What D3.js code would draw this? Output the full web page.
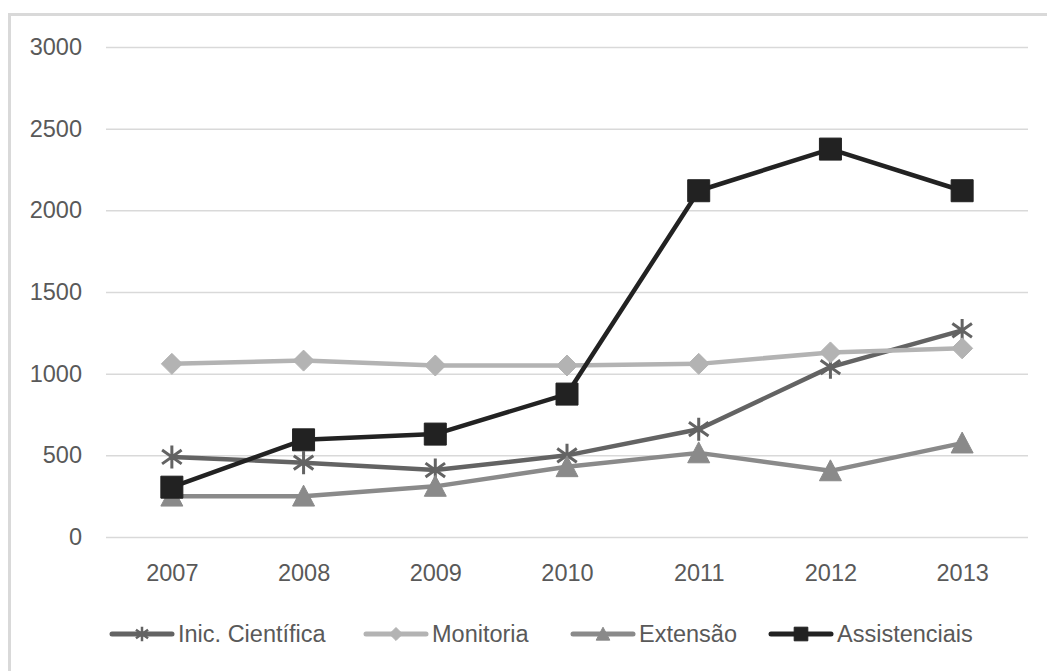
<!DOCTYPE html>
<html>
<head>
<meta charset="utf-8">
<script src="https://cdn.jsdelivr.net/npm/d3@7"></script>
<style>
  html, body { margin: 0; padding: 0; background: #fff; }
  svg { display: block; }
  text { font-family: "Liberation Sans", Arial, sans-serif; fill: #595959; }
</style>
</head>
<body>
<svg id="chart" width="1047" height="671"></svg>
<script>
// Anos e séries
const years = ["2007", "2008", "2009", "2010", "2011", "2012", "2013"];
const inicCientifica = [490, 455, 410, 500, 660, 1040, 1265];
const monitoria = [1060, 1080, 1050, 1050, 1060, 1130, 1155];
const extensao = [250, 250, 310, 430, 515, 405, 575];
const assistenciais = [305, 595, 630, 875, 2120, 2375, 2120];
const yTicks = [0, 500, 1000, 1500, 2000, 2500, 3000];

const series = [
  { name: "Inic. Científica", values: inicCientifica, color: "#636363", marker: "star" },
  { name: "Monitoria", values: monitoria, color: "#b3b3b3", marker: "diamond" },
  { name: "Extensão", values: extensao, color: "#8a8a8a", marker: "triangle" },
  { name: "Assistenciais", values: assistenciais, color: "#222222", marker: "square" }
];

const svg = d3.select("#chart");

// moldura do gráfico
svg.append("rect")
  .attr("x", 9.5).attr("y", 14.5)
  .attr("width", 1200).attr("height", 900)
  .attr("fill", "none")
  .attr("stroke", "#d9d9d9")
  .attr("stroke-width", 3);

const plot = { left: 106, right: 1028, top: 47, bottom: 537 };

const x = d3.scalePoint().domain(years).range([plot.left, plot.right]).padding(0.5);
const y = d3.scaleLinear().domain([0, 3000]).range([plot.bottom, plot.top]);

// eixo Y com linhas de grade
const yAxis = svg.append("g")
  .attr("transform", `translate(${plot.left},0)`)
  .call(d3.axisLeft(y).tickValues(yTicks).tickFormat(d3.format("d"))
    .tickSize(-(plot.right - plot.left)).tickPadding(24));
yAxis.select(".domain").remove();
yAxis.selectAll(".tick line").attr("stroke", "#d9d9d9").attr("stroke-width", 1.5);
yAxis.selectAll(".tick text").style("font-size", "23.5px").attr("fill", "#595959");

// eixo X (somente rótulos)
const xAxis = svg.append("g")
  .attr("transform", `translate(0,${plot.bottom})`)
  .call(d3.axisBottom(x).tickSize(0).tickPadding(27));
xAxis.select(".domain").remove();
xAxis.selectAll(".tick text").style("font-size", "23.5px").attr("fill", "#595959");

// formas dos marcadores
function markerPath(type, s) {
  const h = s / 2;
  if (type === "square") {
    return `M${-h},${-h}H${h}V${h}H${-h}Z`;
  }
  if (type === "diamond") {
    return `M0,${-h}L${h},0L0,${h}L${-h},0Z`;
  }
  if (type === "triangle") {
    return `M0,${-h}L${h},${h * 0.9}L${-h},${h * 0.9}Z`;
  }
  // asterisco: X com traço vertical
  const a = h * 0.85, b = h * 0.6;
  return `M0,${-h}V${h}M${-a},${-b}L${a},${b}M${-a},${b}L${a},${-b}`;
}

function drawMarker(g, type, color, cx, cy, s, sw) {
  const p = g.append("path")
    .attr("transform", `translate(${cx},${cy})`)
    .attr("d", markerPath(type, s));
  if (type === "star") {
    p.attr("fill", "none").attr("stroke", color).attr("stroke-width", sw);
  } else {
    p.attr("fill", color).attr("stroke", color).attr("stroke-width", 1).attr("stroke-linejoin", "round");
  }
}

const markerSize = { square: 22, diamond: 21, triangle: 22, star: 23 };

const line = d3.line().x((d, i) => x(years[i])).y(d => y(d));

series.forEach(s => {
  const g = svg.append("g");
  g.append("path")
    .attr("d", line(s.values))
    .attr("fill", "none")
    .attr("stroke", s.color)
    .attr("stroke-width", 4.5)
    .attr("stroke-linejoin", "round")
    .attr("stroke-linecap", "round");
  s.values.forEach((v, i) => {
    drawMarker(g, s.marker, s.color, x(years[i]), y(v), markerSize[s.marker], 3);
  });
});

// legenda
const legendY = 634;
const legendX = [112, 366, 573, 771];
series.forEach((s, i) => {
  const g = svg.append("g").attr("transform", `translate(${legendX[i]},${legendY})`);
  g.append("line")
    .attr("x1", 0).attr("x2", 60).attr("y1", 0).attr("y2", 0)
    .attr("stroke", s.color).attr("stroke-width", 5).attr("stroke-linecap", "round");
  drawMarker(g, s.marker, s.color, 30, 0, markerSize[s.marker] * 0.62, 2.5);
  g.append("text")
    .attr("x", 66).attr("y", 0)
    .attr("dy", "0.35em")
    .style("font-size", "23.5px")
    .attr("fill", "#595959")
    .text(s.name);
});
</script>
</body>
</html>
